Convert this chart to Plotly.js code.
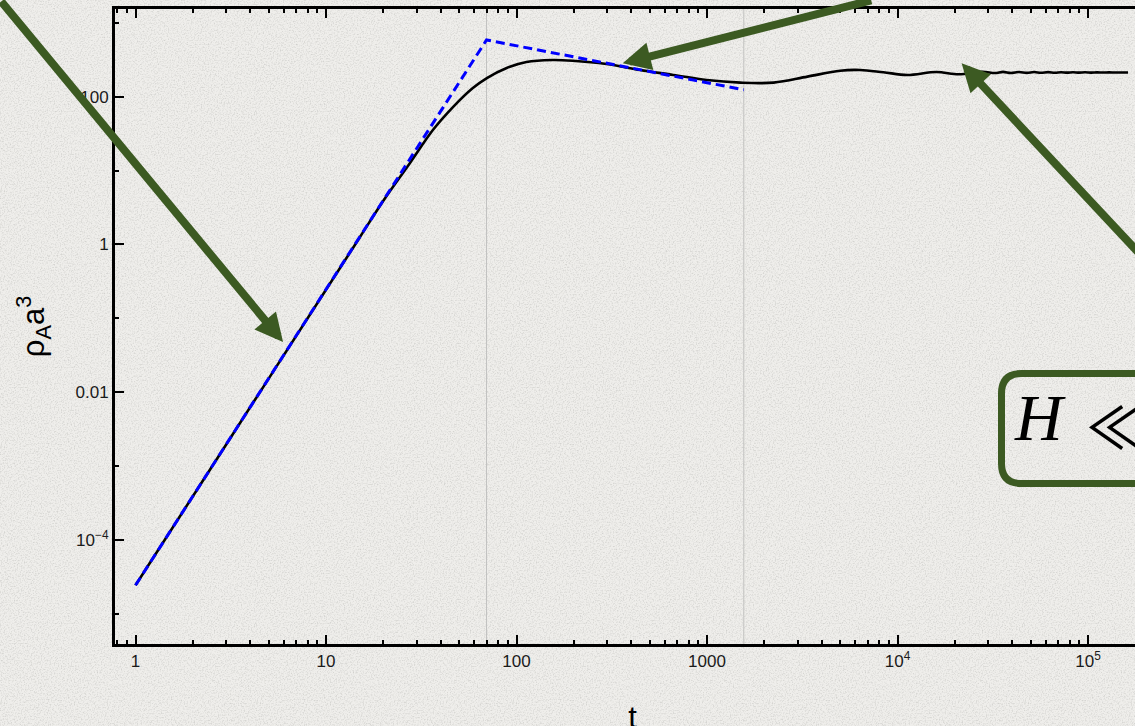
<!DOCTYPE html>
<html>
<head>
<meta charset="utf-8">
<script src="https://cdn.plot.ly/plotly-3.0.1.min.js"></script>
<style>
html, body { margin:0; padding:0; overflow:hidden; width:1135px; height:726px; }
body {
  background-color:#efeeeb;
  background-image:url("data:image/svg+xml;utf8,<svg xmlns='http://www.w3.org/2000/svg' width='256' height='256'><filter id='n'><feTurbulence type='fractalNoise' baseFrequency='0.7' numOctaves='2' stitchTiles='stitch'/><feColorMatrix values='0 0 0 0 0.5  0 0 0 0 0.5  0 0 0 0 0.48  1.3 0 0 0 -0.58'/></filter><rect width='100%' height='100%' filter='url(%23n)'/></svg>");
}
#chart { width:1200px; height:745px; }
</style>
</head>
<body>
<div id="chart"></div>
<script>
// ---- data ----
const tBlack = [1, 2, 5, 10, 15, 20, 27.6, 36.4, 46.4, 59.0, 69.9, 88.8, 112.8, 154, 197, 297, 445, 665, 996, 1496, 2236, 3367, 5000, 6370, 8430, 11250, 16000, 21000, 27900,
  32500, 35800, 39400, 43400, 47800, 52100, 56700, 61700, 67100, 72200, 77600, 83400, 89700, 96400, 103700, 111500, 119900, 128900, 138600, 149000, 162200];
const rhoBlack = [2.44e-5, 3.91e-4, 0.0153, 0.244, 1.235, 3.90, 12.65, 35.4, 72.4, 131, 179, 245, 295, 314, 307, 277, 230, 197, 168, 155, 155, 187, 225, 230, 214, 197, 216, 201, 218,
  209, 216.5, 209.5, 216, 210, 215.5, 210.5, 215, 211, 214.5, 211.5, 214, 211.8, 213.8, 212, 213.5, 212.2, 213.3, 212.4, 213.1, 212.7];

const tDash = [1, 69.6, 1560];
const rhoDash = [2.44e-5, 586, 124];

const xTickVals = [1, 10, 100, 1000, 1e4, 1e5];
const xTickText = ['1', '10', '100', '1000', '10<sup>4</sup>', '10<sup>5</sup>'];
const yTickVals = [1e-4, 0.01, 1, 100];
const yTickText = ['10<sup>\u22124</sup>', '0.01', '1', '100'];
const yMinorVals = [1e-5, 1e-3, 0.1, 10, 1000];

// arrow tips (data values)
const arrowTipT = [5.95, 361, 21700];
const arrowTipRho = [0.0478, 283, 283];

// ---- build ----
const xMinor = [];
for (let e = -1; e <= 5; e++) for (let d = 2; d <= 9; d++) xMinor.push(d * Math.pow(10, e));

const breaks = [tDash[1], tDash[2]];
const traces = breaks.map(b => ({
  x: [b, b], y: [1e-8, 1e6], mode: 'lines', type: 'scatter',
  line: {color: '#c2c2c0', width: 1}, hoverinfo: 'skip', showlegend: false
}));
traces.push({
  x: tBlack, y: rhoBlack, mode: 'lines', type: 'scatter',
  line: {color: '#000000', width: 2.6, shape: 'spline', smoothing: 1}, showlegend: false
});
traces.push({
  x: tDash, y: rhoDash, mode: 'lines', type: 'scatter',
  line: {color: '#0000ff', width: 3, dash: '9px,5px'}, showlegend: false
});

const G = '#3c5a22';
function arrow(i, ax, ay) {
  return {x: Math.log10(arrowTipT[i]), y: Math.log10(arrowTipRho[i]), xref: 'x', yref: 'y',
    text: '', showarrow: true, ax: ax, ay: ay, arrowcolor: G, arrowwidth: 8,
    arrowhead: 2, arrowsize: 0.7, standoff: 0};
}

// plot area geometry for paper-coordinate box
const FIGW = 1200, FIGH = 745;
const L = 115, R = 1150, T = 9, B = 644;
const W = R - L, H = B - T;
function px(x) { return (x - L) / W; }
function py(y) { return (B - y) / H; }
const bx0 = px(1001.5), bx1 = px(1300), by0 = py(483.5), by1 = py(373.5);
const rx = 20 / W, ry = 20 / H;
const boxPath = `M ${bx0 + rx},${by1} L ${bx1},${by1} L ${bx1},${by0} L ${bx0 + rx},${by0} Q ${bx0},${by0} ${bx0},${by0 + ry} L ${bx0},${by1 - ry} Q ${bx0},${by1} ${bx0 + rx},${by1} Z`;

const axisCommon = {
  type: 'log', showgrid: false, zeroline: false, showline: true, linecolor: '#000', linewidth: 3,
  mirror: 'ticks', ticks: 'inside', ticklen: 9, tickwidth: 2, tickcolor: '#000',
  tickfont: {family: 'Liberation Sans, Arial, sans-serif', size: 17, color: '#1a1a1a'},
  tickmode: 'array'
};

const layout = {
  width: FIGW, height: FIGH,
  margin: {l: L, r: FIGW - R, t: T, b: FIGH - B},
  paper_bgcolor: 'rgba(0,0,0,0)', plot_bgcolor: 'rgba(0,0,0,0)',
  xaxis: Object.assign({}, axisCommon, {
    range: [(L - 135.5) / 190.5, (R - 135.5) / 190.5],
    tickvals: xTickVals, ticktext: xTickText,
    minor: {tickmode: 'array', tickvals: xMinor, ticks: 'inside', ticklen: 4, tickwidth: 2, tickcolor: '#000'},
    title: {text: 't', font: {family: 'Liberation Sans, Arial, sans-serif', size: 31, color: '#000'}, standoff: 36}
  }),
  yaxis: Object.assign({}, axisCommon, {
    range: [-4 - (B - 540) / 73.88, 2 + (96.7 - T) / 73.88],
    tickvals: yTickVals, ticktext: yTickText,
    minor: {tickmode: 'array', tickvals: yMinorVals, ticks: 'inside', ticklen: 4, tickwidth: 2, tickcolor: '#000'},
    title: {text: '\u03c1<sub>A</sub>a<sup>3</sup>', font: {family: 'Liberation Sans, Arial, sans-serif', size: 31, color: '#000'}, standoff: 22}
  }),
  shapes: [{type: 'path', xref: 'paper', yref: 'paper', path: boxPath, line: {color: G, width: 7}, fillcolor: 'rgba(0,0,0,0)'}],
  annotations: [
    arrow(0, -295, -376),
    arrow(1, 250, -77),
    arrow(2, 200, 214),
    {xref: 'paper', yref: 'paper', x: px(1012), y: py(417), xanchor: 'left', yanchor: 'middle', showarrow: false,
     text: '<i>H</i>', font: {family: 'Liberation Serif, serif', size: 66, color: '#000'}},
    {xref: 'paper', yref: 'paper', x: px(1084), y: py(424), xanchor: 'left', yanchor: 'middle', showarrow: false,
     text: '\u226a', font: {family: 'Noto Sans CJK JP, DejaVu Serif, serif', size: 58, color: '#000'}}
  ]
};

Plotly.newPlot('chart', traces, layout, {displayModeBar: false, staticPlot: true});
</script>
</body>
</html>
